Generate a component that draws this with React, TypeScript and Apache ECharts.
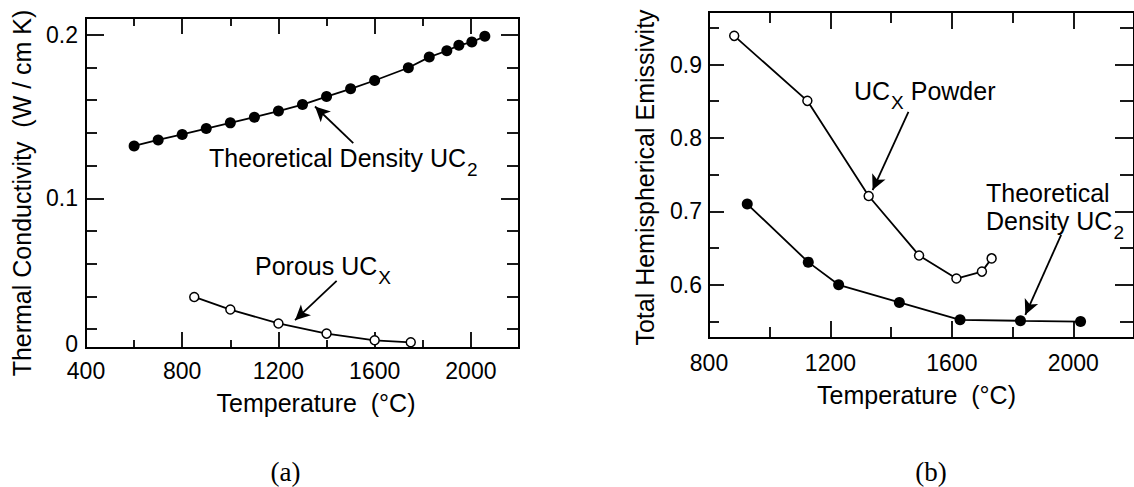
import React, { useEffect, useRef } from "react";
import * as echarts from "echarts";

// ---------- Panel (a): Thermal conductivity ----------
const tempA_UC2 = [600, 700, 800, 900, 1000, 1100, 1200, 1300, 1400, 1500, 1600, 1740, 1827, 1900, 1950, 2004, 2058];
const condA_UC2 = [0.132, 0.1357, 0.139, 0.1426, 0.1461, 0.1496, 0.1533, 0.1573, 0.1622, 0.1669, 0.172, 0.1798, 0.1863, 0.1902, 0.1935, 0.1955, 0.199];
const tempA_UCx = [850, 1000, 1200, 1400, 1600, 1750];
const condA_UCx = [0.0397, 0.032, 0.0235, 0.0173, 0.0132, 0.012];

const xA_range = [400, 2200];
const yA_range = [0.0085, 0.2102];
const xA_labels = [400, 800, 1200, 1600, 2000];
const xA_major = [800, 1200, 1600, 2000];
const xA_minor = [600, 1000, 1400, 1800];
const yA_labels = [0.011, 0.1, 0.2]; // the lowest label reads "0" in the original figure
const yA_major = [0.1, 0.2];
const yA_minor = [0.02, 0.04, 0.06, 0.08, 0.12, 0.14, 0.16, 0.18];

// ---------- Panel (b): Emissivity ----------
const tempB_UCx = [883, 1124, 1326, 1492, 1615, 1699, 1731];
const emisB_UCx = [0.939, 0.8505, 0.721, 0.64, 0.6086, 0.618, 0.636];
const tempB_UC2 = [926, 1127, 1227, 1427, 1627, 1826, 2024];
const emisB_UC2 = [0.71, 0.6309, 0.6, 0.576, 0.5524, 0.551, 0.55];

const xB_range = [800, 2200];
const yB_range = [0.5276, 0.9715];
const xB_labels = [800, 1200, 1600, 2000];
const xB_major = [1200, 1600, 2000];
const xB_minor = [1000, 1400, 1800];
const yB_labels = [0.6, 0.7, 0.8, 0.9];
const yB_major = [0.6, 0.7, 0.8, 0.9];
const yB_minor = [0.55, 0.65, 0.75, 0.85, 0.95];

// annotation arrows (data coordinates: [tail, head])
const arrowA_UC2 = [[1511, 0.1337], [1352, 0.1561]];
const arrowA_UCx = [[1442, 0.0495], [1269, 0.0255]];
const arrowB_UCx = [[1457, 0.8356], [1339, 0.7291]];
const arrowB_UC2 = [[1960, 0.668], [1842, 0.5592]];

const FONT = '"Liberation Sans", Arial, Helvetica, sans-serif';
const SERIF = '"Liberation Serif", "Times New Roman", serif';
const BLACK = "#000";

const zip = (a: number[], b: number[]) => a.map((v, i) => [v, b[i]]);

function tickAxis(
  dim: "x" | "y",
  grid: number,
  range: number[],
  position: string,
  ticks: number[],
  len: number,
  extra: any = {}
) {
  return {
    type: "value",
    gridIndex: grid,
    min: range[0],
    max: range[1],
    position,
    axisLine: { show: false },
    splitLine: { show: false },
    axisTick: {
      show: true,
      inside: true,
      length: len,
      customValues: ticks,
      lineStyle: { color: BLACK, width: 1.8 },
    },
    axisLabel: { show: false },
    ...extra,
  };
}

function labelCfg(values: number[], margin: number, fmt?: (v: number) => string) {
  return {
    show: true,
    customValues: values,
    margin,
    color: BLACK,
    fontSize: 23,
    fontFamily: FONT,
    formatter: fmt || ((v: number) => String(v)),
  };
}

function nameCfg(name: string, gap: number, padding: number[]) {
  return {
    name,
    nameLocation: "middle",
    nameGap: gap,
    nameTextStyle: { color: BLACK, fontSize: 25, fontFamily: FONT, padding },
  };
}

function arrow(pts: number[][]) {
  return [{ coord: pts[0] }, { coord: pts[1] }];
}

const markLineStyle = {
  silent: true,
  symbol: ["none", "arrow"],
  symbolSize: [11, 15],
  lineStyle: { color: BLACK, width: 1.8, type: "solid" },
  label: { show: false },
  emphasis: { disabled: true },
  animation: false,
};

function annot(x: number, y: number, text: string, subFont = 19) {
  return {
    type: "text",
    x,
    y,
    silent: true,
    style: {
      text,
      fill: BLACK,
      fontSize: 25,
      fontFamily: FONT,
      lineHeight: 28,
      verticalAlign: "top",
      align: "left",
      rich: {
        s: {
          fontSize: subFont,
          fontFamily: FONT,
          fill: BLACK,
          verticalAlign: "top",
          lineHeight: 6,
          padding: [16, 0, 0, 1],
        },
      },
    },
  };
}

export default function App() {
  const ref = useRef<HTMLDivElement>(null);

  useEffect(() => {
    document.body.style.margin = "0";
    if (!ref.current) return;
    const chart = echarts.init(ref.current, null, { renderer: "svg" });

    const option: any = {
      animation: false,
      backgroundColor: "#fff",
      grid: [
        { left: 86, top: 18, width: 433, height: 330, show: true, borderColor: BLACK, borderWidth: 2, backgroundColor: "transparent" },
        { left: 709, top: 12, width: 435, height: 326, show: true, borderColor: BLACK, borderWidth: 2, backgroundColor: "transparent" },
      ],
      xAxis: [
        // panel (a)
        tickAxis("x", 0, xA_range, "bottom", xA_major, 16, {
          axisLabel: labelCfg(xA_labels, 11),
          ...nameCfg("Temperature  (°C)", 42, [0, 0, 0, 27]),
        }),
        tickAxis("x", 0, xA_range, "bottom", xA_minor, 8),
        tickAxis("x", 0, xA_range, "top", xA_major, 16),
        tickAxis("x", 0, xA_range, "top", xA_minor, 8),
        // panel (b)
        tickAxis("x", 1, xB_range, "bottom", xB_major, 17, {
          axisLabel: labelCfg(xB_labels, 13),
          ...nameCfg("Temperature  (°C)", 44, [0, 10, 0, 0]),
        }),
        tickAxis("x", 1, xB_range, "bottom", xB_minor, 11),
        tickAxis("x", 1, xB_range, "top", xB_major, 17),
        tickAxis("x", 1, xB_range, "top", xB_minor, 11),
      ],
      yAxis: [
        // panel (a)
        tickAxis("y", 0, yA_range, "left", yA_major, 18, {
          axisLabel: labelCfg(yA_labels, 8, (v: number) => (v < 0.05 ? "0" : String(v))),
          ...nameCfg("Thermal Conductivity  (W / cm K)", 52, [0, 20, 0, 0]),
        }),
        tickAxis("y", 0, yA_range, "left", yA_minor, 11),
        tickAxis("y", 0, yA_range, "right", yA_major, 18),
        tickAxis("y", 0, yA_range, "right", yA_minor, 12),
        // panel (b)
        tickAxis("y", 1, yB_range, "left", yB_major, 15, {
          axisLabel: labelCfg(yB_labels, 7),
          ...nameCfg("Total Hemispherical Emissivity", 52, [0, 5, 0, 0]),
        }),
        tickAxis("y", 1, yB_range, "left", yB_minor, 10),
        tickAxis("y", 1, yB_range, "right", yB_major, 19),
        tickAxis("y", 1, yB_range, "right", yB_minor, 14),
      ],
      series: [
        {
          name: "Theoretical Density UC2 (a)",
          type: "line",
          xAxisIndex: 0,
          yAxisIndex: 0,
          data: zip(tempA_UC2, condA_UC2),
          symbol: "circle",
          symbolSize: 11,
          itemStyle: { color: BLACK },
          lineStyle: { color: BLACK, width: 1.8 },
          emphasis: { disabled: true },
          markLine: { ...markLineStyle, data: [arrow(arrowA_UC2)] },
        },
        {
          name: "Porous UCx (a)",
          type: "line",
          xAxisIndex: 0,
          yAxisIndex: 0,
          data: zip(tempA_UCx, condA_UCx),
          symbol: "circle",
          symbolSize: 9,
          itemStyle: { color: "#fff", borderColor: BLACK, borderWidth: 1.5 },
          lineStyle: { color: BLACK, width: 1.8 },
          emphasis: { disabled: true },
          markLine: { ...markLineStyle, data: [arrow(arrowA_UCx)] },
        },
        {
          name: "UCx Powder (b)",
          type: "line",
          xAxisIndex: 4,
          yAxisIndex: 4,
          data: zip(tempB_UCx, emisB_UCx),
          symbol: "circle",
          symbolSize: 9,
          itemStyle: { color: "#fff", borderColor: BLACK, borderWidth: 1.5 },
          lineStyle: { color: BLACK, width: 1.8 },
          emphasis: { disabled: true },
          markLine: { ...markLineStyle, data: [arrow(arrowB_UCx)] },
        },
        {
          name: "Theoretical Density UC2 (b)",
          type: "line",
          xAxisIndex: 4,
          yAxisIndex: 4,
          data: zip(tempB_UC2, emisB_UC2),
          symbol: "circle",
          symbolSize: 11,
          itemStyle: { color: BLACK },
          lineStyle: { color: BLACK, width: 1.8 },
          emphasis: { disabled: true },
          markLine: { ...markLineStyle, data: [arrow(arrowB_UC2)] },
        },
      ],
      graphic: [
        annot(209, 144, "Theoretical Density UC{s|2}"),
        annot(255, 252, "Porous UC{s|X}"),
        annot(854, 77, "UC{s|X} Powder"),
        annot(986, 179, "Theoretical\nDensity UC{s|2}"),
        {
          type: "text",
          x: 285.5,
          y: 472,
          silent: true,
          style: { text: "(a)", fill: BLACK, fontSize: 27, fontFamily: SERIF, align: "center", verticalAlign: "middle" },
        },
        {
          type: "text",
          x: 931,
          y: 472,
          silent: true,
          style: { text: "(b)", fill: BLACK, fontSize: 27, fontFamily: SERIF, align: "center", verticalAlign: "middle" },
        },
      ],
    };

    chart.setOption(option);
    return () => chart.dispose();
  }, []);

  return (
    <div
      ref={ref}
      style={{ position: "absolute", left: 0, top: 0, width: 1134, height: 487, background: "#fff" }}
    />
  );
}
